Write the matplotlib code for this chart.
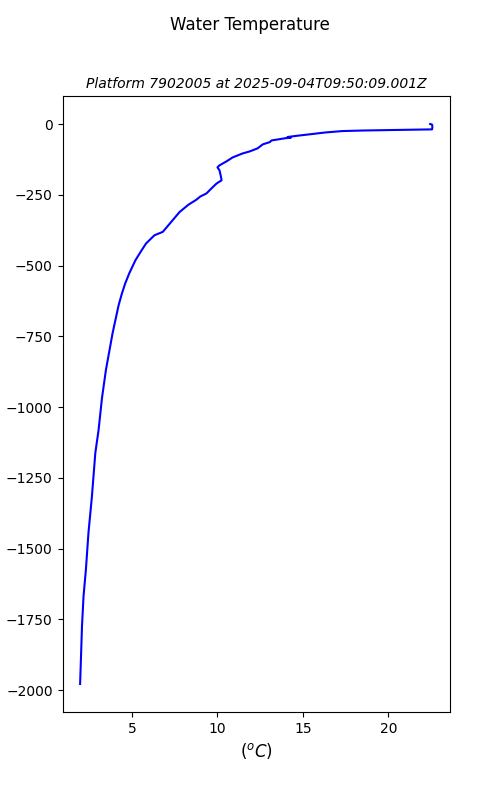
import matplotlib
matplotlib.use("Agg")
import matplotlib.pyplot as plt

# perfil
depth = [0, -2, -10, -19, -21, -23, -25, -30, -35, -42, -46, -48, -50, -58,
         -64, -72, -86, -97, -104, -118, -132, -146, -153, -164, -185, -199,
         -210, -224, -234, -245, -256, -268, -285, -311, -346, -381, -393,
         -422, -447, -481, -527, -563, -600, -641, -739, -869, -968, -1081,
         -1162, -1316, -1443, -1573, -1668, -1774, -1978]
temp = [22.45, 22.56, 22.58, 22.56, 20.5, 18.5, 17.3, 16.3, 15.6, 14.6,
        14.1, 14.3, 14.0, 13.17, 13.06, 12.65, 12.35, 11.88, 11.47, 10.89,
        10.53, 10.12, 10.0, 10.12, 10.2, 10.24, 9.95, 9.71, 9.54, 9.36, 9.0,
        8.75, 8.3, 7.78, 7.29, 6.80, 6.31, 5.82, 5.55, 5.2, 4.84, 4.6,
        4.4, 4.21, 3.86, 3.47, 3.24, 3.04, 2.85, 2.65, 2.45, 2.30, 2.16,
        2.07, 1.96]

titulo = "Water Temperature"
subtitulo = "Platform 7902005 at 2025-09-04T09:50:09.001Z"

fig = plt.figure(figsize=(5, 8), dpi=100)
ax = fig.add_subplot(111)
ax.plot(temp, depth, color='blue')
fig.suptitle(titulo)
ax.set_title(subtitulo, fontsize=10, style='italic')
ax.set_xlabel('$(^oC)$', fontsize=12)
ax.set_ylabel('depth (m)')
fig.savefig('out.png', dpi=100)
